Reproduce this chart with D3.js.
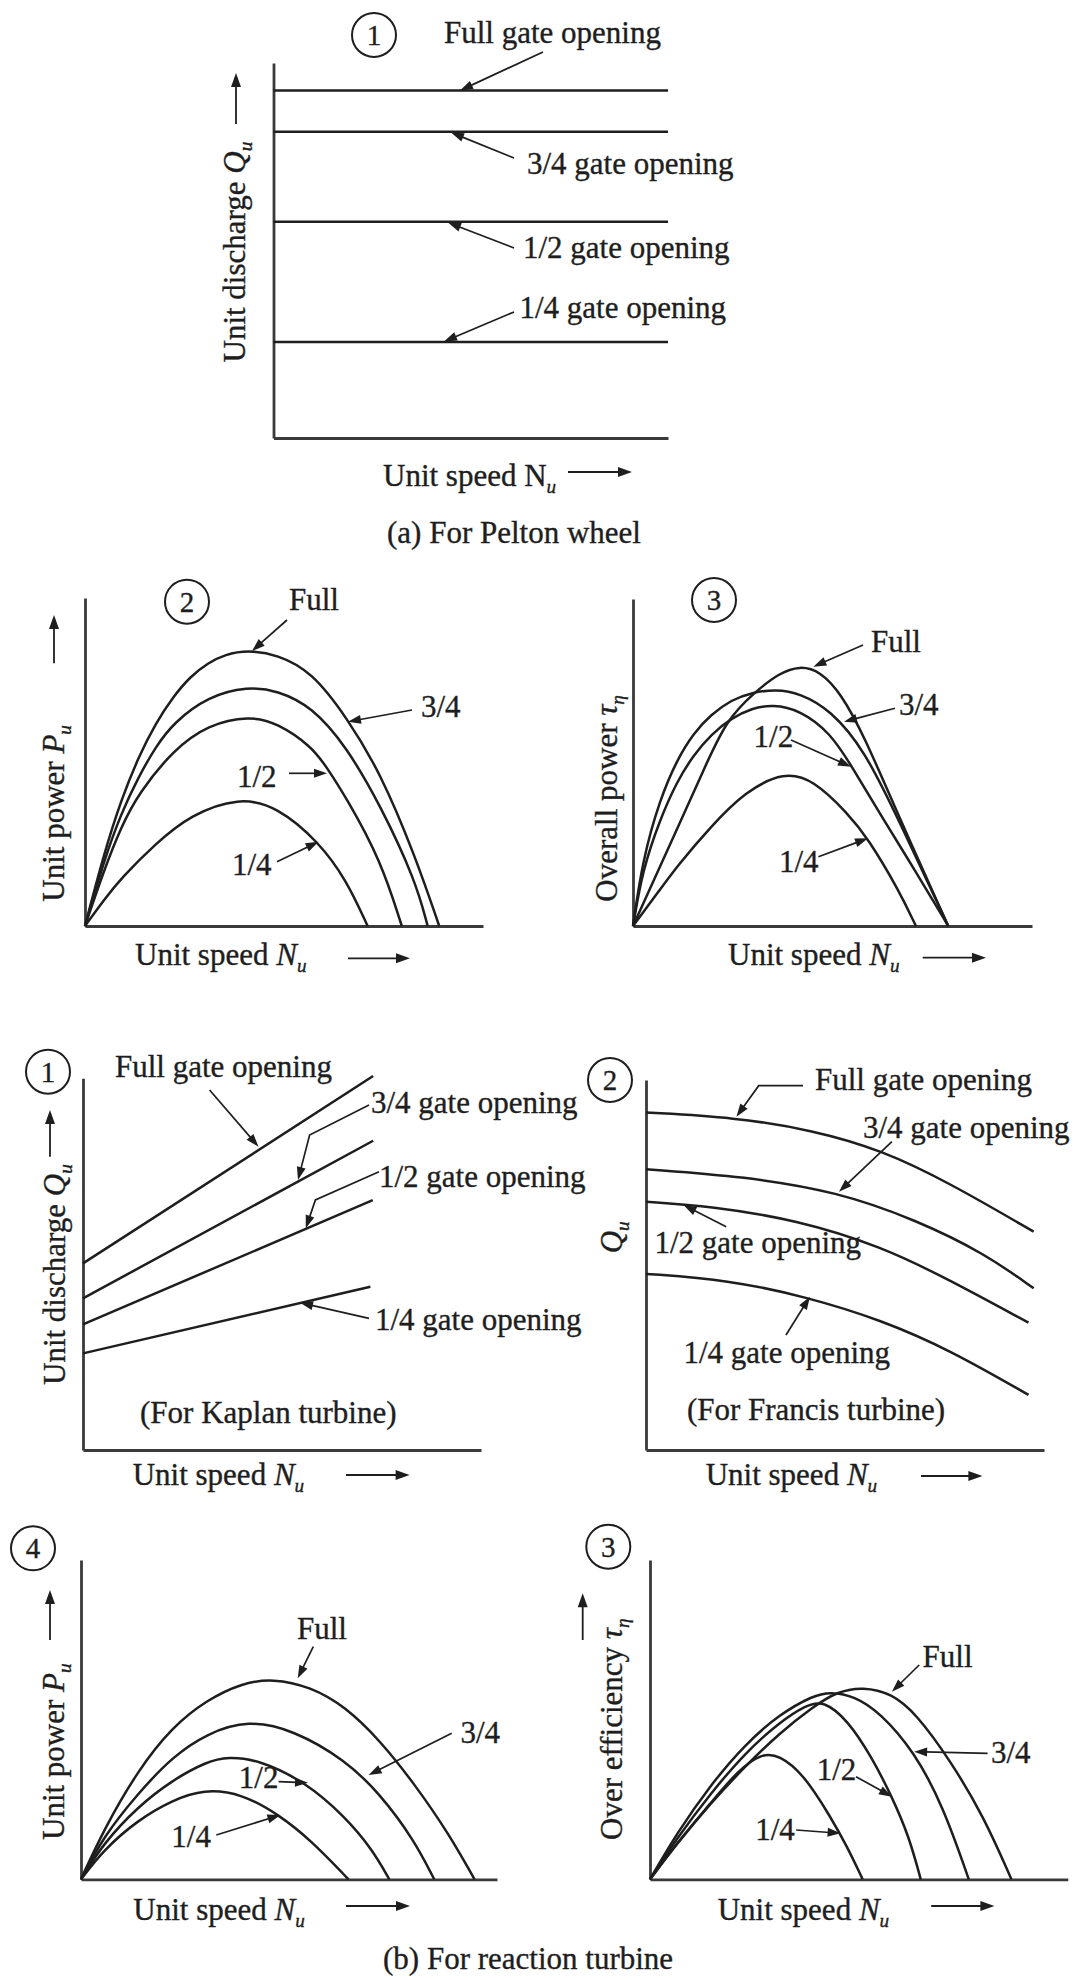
<!DOCTYPE html>
<html>
<head>
<meta charset="utf-8">
<script src="https://cdn.jsdelivr.net/npm/d3@7"></script>
<style>
  html, body { margin: 0; padding: 0; background: #fff; }
  svg { display: block; }
  text { font-family: "Liberation Serif", "Times New Roman", serif; fill: #1e1e1e; stroke: #1e1e1e; stroke-width: 0.35px; }
</style>
</head>
<body>
<svg id="chart" width="1073" height="1980"></svg>
<script>
// Gate openings shared by every family of characteristic curves
const gateLevels = ["Full", "3/4", "1/2", "1/4"];
const gateLabels = ["Full gate opening", "3/4 gate opening", "1/2 gate opening", "1/4 gate opening"];

// All values are in percent of each axis (schematic curves, no units).

// (a) Pelton wheel: unit discharge is independent of unit speed
const peltonSpeed = [0, 100];
const peltonDischarge = [92.7, 81.7, 57.7, 25.6];

// (a) Pelton wheel: unit power vs unit speed, [N, P]
const peltonPowerFull = [[0,0],[4.8,22.2],[9.1,38.5],[13.5,51.7],[17.8,61.9],[22.2,70.0],[26.5,76.1],[30.9,80.2],[35.2,82.8],[40.9,84.1],[48.3,82.8],[57.0,77.5],[65.7,63.7],[74.3,46.6],[83.0,21.2],[89.0,0]];
const peltonPower34   = [[0,0],[4.8,20.1],[9.1,34.4],[13.5,45.6],[17.8,54.7],[22.2,61.9],[30.9,70.0],[40.9,73.0],[48.3,71.8],[57.0,66.9],[65.7,54.7],[74.3,36.6],[83.0,14.0],[86.1,0]];
const peltonPower12   = [[0,0],[4.8,17.1],[9.1,30.3],[13.5,40.5],[22.2,53.7],[30.9,61.4],[41.3,64.1],[48.3,61.9],[57.0,54.7],[60.9,48.1],[65.7,39.0],[74.3,20.1],[79.6,0]];
const peltonPower14   = [[0,0],[4.8,8.0],[9.1,14.6],[17.8,25.2],[26.5,33.9],[38.7,39.3],[48.3,36.4],[58.7,25.7],[65.7,14.0],[71.0,0]];

// (a) Pelton wheel: overall efficiency vs unit speed, [N, eta]
const peltonEffFull = [[0,0],[11.0,29.5],[17.8,48.0],[23.4,63.1],[30.7,71.7],[36.6,77.3],[41.8,79.6],[46.9,77.9],[52.1,71.2],[58.0,58.0],[66.6,33.5],[79.0,0]];
const peltonEff34   = [[0,0],[2.4,20.2],[6.7,38.6],[11.0,50.8],[15.2,59.0],[19.5,64.6],[24.7,69.2],[29.8,71.4],[35.8,72.4],[41.8,71.2],[49.5,66.1],[58.0,53.9],[66.6,32.4],[79.0,0]];
const peltonEff12   = [[0,0],[2.4,17.1],[6.7,32.4],[11.0,44.2],[15.2,52.3],[19.5,58.5],[24.7,63.6],[29.8,66.6],[34.9,67.7],[41.8,66.1],[49.5,59.0],[54.6,49.3],[62.3,33.5],[70.9,16.6],[79.0,0]];
const peltonEff14   = [[0,0],[6.7,11.0],[11.0,18.2],[19.5,30.4],[28.1,41.1],[37.9,47.2],[45.2,44.7],[53.8,34.5],[58.9,26.8],[66.6,11.0],[70.9,0]];

// (b) Kaplan turbine: unit discharge rises linearly with unit speed
const kaplanQFull = [[0,50.2],[72.9,100.6]];
const kaplanQ34   = [[0,40.8],[72.9,83.2]];
const kaplanQ12   = [[0,33.8],[72.8,67.2]];
const kaplanQ14   = [[0,26.0],[72.2,43.9]];

// (b) Francis turbine: unit discharge falls with unit speed
const francisQFull = [[0,91.2],[22.3,89.9],[41.6,86.5],[59.2,81.1],[76.4,72.1],[97.4,59.0]];
const francisQ34   = [[0,75.9],[24.9,73.9],[48.1,69.8],[67.8,62.2],[85.0,53.2],[97.4,43.7]];
const francisQ12   = [[0,67.1],[16.3,65.9],[37.8,62.2],[59.2,55.0],[76.4,45.9],[96.1,34.4]];
const francisQ14   = [[0,47.6],[20.6,46.0],[40.3,41.4],[59.2,35.1],[76.4,27.0],[96.1,14.9]];

// (b) Reaction turbine: unit power vs unit speed
const reactionPowerFull = [[0,0],[5.4,15.4],[13.7,34.2],[22.0,47.8],[30.3,56.2],[38.6,61.4],[46.1,62.9],[55.2,60.3],[63.5,54.1],[71.8,43.6],[80.1,30.0],[88.4,14.3],[94.6,0]];
const reactionPower34   = [[0,0],[5.4,13.4],[13.7,26.9],[22.0,38.4],[30.3,45.7],[40.2,49.9],[51.0,46.8],[63.5,37.4],[71.8,26.9],[80.1,12.3],[84.9,0]];
const reactionPower12   = [[0,0],[5.4,11.3],[13.7,22.8],[22.0,31.1],[30.3,36.9],[35.3,38.4],[42.8,37.4],[53.8,30.6],[63.5,19.6],[70.1,9.2],[74.1,0]];
const reactionPower14   = [[0,0],[5.4,9.2],[13.7,18.6],[22.0,24.8],[29.5,28.2],[38.6,26.9],[47.7,20.1],[55.2,12.3],[64.3,0]];

// (b) Reaction turbine: overall efficiency vs unit speed
const reactionEffFull = [[0,0],[6.4,11.1],[14.5,23.8],[22.7,35.3],[30.9,45.7],[39.1,54.1],[44.8,58.8],[50.9,60.3],[57.9,58.2],[63.6,52.0],[71.8,37.4],[79.9,19.6],[86.5,0]];
const reactionEff34   = [[0,0],[6.4,14.4],[14.5,29.6],[22.7,42.2],[30.9,51.6],[39.1,57.6],[43.2,58.7],[48.9,57.4],[55.1,52.2],[63.2,40.1],[70.2,22.8],[76.3,0]];
const reactionEff12   = [[0,0],[6.4,12.8],[14.5,26.9],[22.7,39.5],[30.9,49.1],[37.4,54.6],[41.5,56.0],[47.3,49.9],[53.0,38.4],[57.9,25.9],[62.0,13.4],[64.8,0]];
const reactionEff14   = [[0,0],[6.4,11.3],[14.5,23.8],[21.1,34.2],[26.8,39.5],[30.9,38.9],[36.6,33.2],[43.2,19.6],[47.2,10.2],[50.9,0]];

// ---------------------------------------------------------------------------
const INK = "#1e1e1e";
const AXIS = "#3a3a3a";
const FONT = 31;
const svg = d3.select("#chart");

// Polyline leader ending in a filled arrowhead
function arrow(g, pts, head = 13, half = 4.5, width = 1.7) {
  const [x1, y1] = pts[pts.length - 2];
  const [x2, y2] = pts[pts.length - 1];
  const a = Math.atan2(y2 - y1, x2 - x1);
  const bx = x2 - head * Math.cos(a), by = y2 - head * Math.sin(a);
  const shaft = pts.slice(0, -1).concat([[bx + 2 * Math.cos(a), by + 2 * Math.sin(a)]]);
  g.append("path").attr("d", d3.line()(shaft))
    .attr("fill", "none").attr("stroke", INK).attr("stroke-width", width);
  const nx = -Math.sin(a) * half, ny = Math.cos(a) * half;
  g.append("path")
    .attr("d", `M${x2},${y2}L${bx + nx},${by + ny}L${bx - nx},${by - ny}Z`)
    .attr("fill", INK);
}

// Text made of plain / italic / subscript runs; rotated labels read bottom-up
function rich(g, x, y, parts, rotated = false) {
  const t = g.append("text").attr("font-size", FONT);
  if (rotated) t.attr("transform", `translate(${x},${y}) rotate(-90)`);
  else t.attr("x", x).attr("y", y);
  let shifted = false;
  parts.forEach(p => {
    const s = t.append("tspan").text(p.t);
    if (p.i) s.attr("font-style", "italic");
    if (p.sub) { s.attr("font-size", FONT * 0.62).attr("dy", 7); shifted = true; }
    else if (shifted) { s.attr("dy", -7); shifted = false; }
  });
  return t;
}

function label(g, x, y, txt) {
  g.append("text").attr("x", x).attr("y", y).attr("font-size", FONT).text(txt);
}

function badge(g, cx, cy, num) {
  g.append("circle").attr("cx", cx).attr("cy", cy).attr("r", 22)
    .attr("fill", "none").attr("stroke", INK).attr("stroke-width", 2);
  g.append("text").attr("x", cx).attr("y", cy + 10).attr("text-anchor", "middle")
    .attr("font-size", 29).text(num);
}

// One framed family of curves
function panel(cfg) {
  const g = svg.append("g");
  const x = d3.scaleLinear().domain([0, 100]).range([cfg.x0, cfg.x1]);
  const y = d3.scaleLinear().domain([0, 100]).range([cfg.base, cfg.top]);

  const ax = g.append("g").attr("transform", `translate(0,${cfg.base})`)
    .call(d3.axisBottom(x).tickValues([]).tickSizeOuter(0));
  const ay = g.append("g").attr("transform", `translate(${cfg.x0},0)`)
    .call(d3.axisLeft(y).tickValues([]).tickSizeOuter(0));
  [ax, ay].forEach(a => a.select(".domain").attr("stroke", AXIS).attr("stroke-width", 2.8));

  const line = d3.line().x(d => x(d[0])).y(d => y(d[1])).curve(cfg.curve || d3.curveBasis);
  g.selectAll("path.series").data(cfg.series).join("path")
    .attr("class", "series")
    .attr("d", line)
    .attr("fill", "none").attr("stroke", INK).attr("stroke-width", 2.5)
    .attr("stroke-linejoin", "round");

  badge(g, cfg.badge[0], cfg.badge[1], cfg.badge[2]);
  cfg.labels.forEach((l, i) => label(g, l[0], l[1], cfg.names[i]));
  cfg.leaders.forEach(p => arrow(g, p));
  (cfg.notes || []).forEach(n => label(g, n[0], n[1], n[2]));
  rich(g, cfg.ylab[0], cfg.ylab[1], cfg.ylab[2], true);
  if (cfg.yArrow) arrow(g, cfg.yArrow, 14, 5, 1.8);
  rich(g, cfg.xlab[0], cfg.xlab[1], cfg.xlab[2]);
  arrow(g, cfg.xArrow, 14, 5, 1.8);
  return g;
}

const speedItalic = [{ t: "Unit speed " }, { t: "N", i: true }, { t: "u", i: true, sub: true }];

// (a)-1 Pelton discharge
panel({
  x0: 273.5, x1: 668, top: 63, base: 438,
  series: peltonDischarge.map(q => peltonSpeed.map(n => [n, q])),
  curve: d3.curveLinear,
  badge: [374, 35, "1"],
  names: gateLabels,
  labels: [[444, 43], [527, 174], [523, 258], [519.5, 318]],
  leaders: [[[543, 52], [460, 90.5]], [[514, 158], [451, 132.5]], [[514, 248], [448, 222.5]], [[514, 312], [444, 341.5]]],
  ylab: [245, 362.5, [{ t: "Unit discharge " }, { t: "Q", i: true }, { t: "u", i: true, sub: true }]],
  yArrow: [[236, 124], [236, 73]],
  xlab: [383, 486, [{ t: "Unit speed N" }, { t: "u", i: true, sub: true }]],
  xArrow: [[568, 472], [632, 472]]
});
label(svg, 387, 543, "(a) For Pelton wheel");

// (a)-2 Pelton unit power
panel({
  x0: 85, x1: 483, top: 598, base: 926,
  series: [peltonPowerFull, peltonPower34, peltonPower12, peltonPower14],
  badge: [187, 601.7, "2"],
  names: gateLevels,
  labels: [[289, 610], [421, 716.7], [237, 786.7], [232, 875]],
  leaders: [[[287, 620], [252, 651]], [[412, 710], [348, 721.7]], [[289, 773.3], [327, 773.3]], [[277, 861.7], [318.6, 841.7]]],
  ylab: [64, 901.7, [{ t: "Unit power " }, { t: "P", i: true }, { t: "u", i: true, sub: true }]],
  yArrow: [[54, 663.3], [54, 615]],
  xlab: [135, 965, speedItalic],
  xArrow: [[348, 958.3], [410, 958.3]]
});

// (a)-3 Pelton overall efficiency
panel({
  x0: 633, x1: 1032, top: 599, base: 926,
  series: [peltonEffFull, peltonEff34, peltonEff12, peltonEff14],
  badge: [714, 600, "3"],
  names: gateLevels,
  labels: [[871, 651.7], [899, 715], [753.6, 746.7], [779, 871.7]],
  leaders: [[[863, 645], [813.4, 666.7]], [[895, 708.3], [844, 721.7]], [[791, 740], [851, 766.7]], [[818.5, 856.7], [868, 838.3]]],
  ylab: [617, 901.7, [{ t: "Overall power " }, { t: "τ", i: true }, { t: "η", i: true, sub: true }]],
  xlab: [728, 965, speedItalic],
  xArrow: [[922.7, 957.7], [986, 957.7]]
});

// (b)-1 Kaplan discharge
panel({
  x0: 83, x1: 481, top: 1078.3, base: 1450,
  series: [kaplanQFull, kaplanQ34, kaplanQ12, kaplanQ14],
  curve: d3.curveLinear,
  badge: [48, 1071.7, "1"],
  names: gateLabels,
  labels: [[115, 1076.7], [371, 1113.3], [379, 1186.7], [375, 1330]],
  leaders: [[[209.6, 1090], [258.5, 1146.7]], [[369, 1105], [309.6, 1135], [298, 1180]], [[379, 1171.7], [315.4, 1200], [305.8, 1228.3]], [[369, 1318.3], [300, 1302.7]]],
  notes: [[140, 1423.3, "(For Kaplan turbine)"]],
  ylab: [65.4, 1385, [{ t: "Unit discharge " }, { t: "Q", i: true }, { t: "u", i: true, sub: true }]],
  yArrow: [[50, 1156.7], [50, 1110]],
  xlab: [132.7, 1485, speedItalic],
  xArrow: [[346, 1475], [409.6, 1475]]
});

// (b)-2 Francis discharge
panel({
  x0: 646, x1: 1044, top: 1080, base: 1450,
  series: [francisQFull, francisQ34, francisQ12, francisQ14],
  badge: [610, 1080, "2"],
  names: gateLabels,
  labels: [[815, 1090], [862.9, 1138.3], [654.5, 1253.3], [683.5, 1363.3]],
  leaders: [[[803, 1085.7], [758.7, 1085.7], [736.4, 1116.7]], [[891.9, 1141.7], [839, 1191.7]], [[726.2, 1226.7], [683.5, 1205]], [[786, 1335], [809.9, 1296.7]]],
  notes: [[686.9, 1420, "(For Francis turbine)"]],
  ylab: [622, 1253.3, [{ t: "Q", i: true }, { t: "u", i: true, sub: true }]],
  xlab: [705.7, 1485, speedItalic],
  xArrow: [[921, 1476], [982.4, 1476]]
});

// (b)-4 Reaction unit power
panel({
  x0: 81, x1: 497, top: 1560, base: 1879.3,
  series: [reactionPowerFull, reactionPower34, reactionPower12, reactionPower14],
  badge: [33, 1548.3, "4"],
  names: gateLevels,
  labels: [[297, 1639.3], [460.4, 1743.3], [238.8, 1788.3], [171.3, 1847.3]],
  leaders: [[[313.3, 1646.7], [297.7, 1678.3]], [[451.7, 1733.3], [368.6, 1775]], [[278.6, 1781.7], [308, 1782.7]], [[216.3, 1835], [280.4, 1815]]],
  ylab: [64, 1840, [{ t: "Unit power " }, { t: "P", i: true }, { t: "u", i: true, sub: true }]],
  yArrow: [[50, 1640], [50, 1590]],
  xlab: [133.3, 1920, speedItalic],
  xArrow: [[346, 1906], [410, 1906]]
});

// (b)-3 Reaction overall efficiency
panel({
  x0: 650, x1: 1067.8, top: 1560, base: 1879.3,
  series: [reactionEffFull, reactionEff34, reactionEff12, reactionEff14],
  badge: [608.3, 1546.7, "3"],
  names: gateLevels,
  labels: [[922.6, 1666.7], [991, 1763.3], [816.7, 1780], [755.2, 1840]],
  leaders: [[[919.2, 1665], [891.9, 1691.7]], [[987.6, 1753.3], [914.1, 1751.7]], [[856, 1776.7], [891.9, 1796.7]], [[796.2, 1830], [840.6, 1833.3]]],
  ylab: [622, 1840, [{ t: "Over efficiency " }, { t: "τ", i: true }, { t: "η", i: true, sub: true }]],
  yArrow: [[582.7, 1640], [582.7, 1593.3]],
  xlab: [717.7, 1920, speedItalic],
  xArrow: [[931.2, 1906], [994.4, 1906]]
});
label(svg, 383, 1969, "(b) For reaction turbine");
</script>
</body>
</html>
